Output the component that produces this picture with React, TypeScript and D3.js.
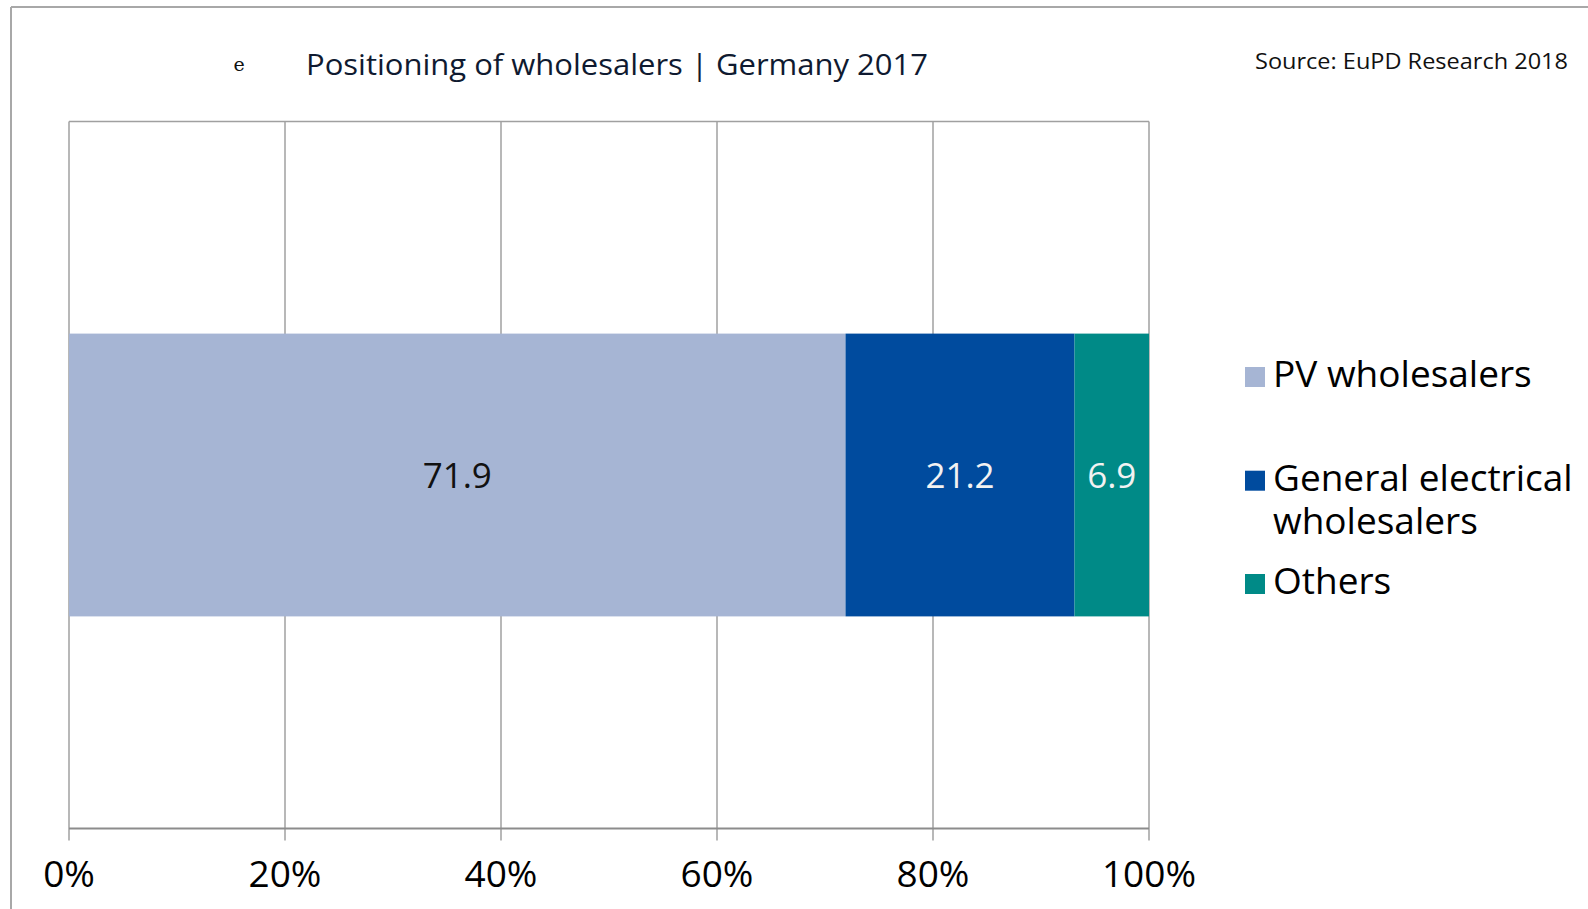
import React from "react";
import * as d3 from "d3";

const categories = ["Germany 2017"];
const seriesNames = ["PV wholesalers", "General electrical wholesalers", "Others"];
const seriesValues = [71.9, 21.2, 6.9];
const seriesColors = ["#a6b5d4", "#004b9e", "#008a87"];
const labelColors = ["#111111", "#f2f2f2", "#f2f2f2"];
const xTicks = [0, 20, 40, 60, 80, 100];
const legendLines = [["PV wholesalers"], ["General electrical", "wholesalers"], ["Others"]];

const W = 1588;
const H = 909;
const FONT = "'Open Sans', 'Noto Sans', sans-serif";

export default function App() {
  const left = 69;
  const right = 1149;
  const top = 121.5;
  const bottom = 828.5;

  const x = d3.scaleLinear().domain([0, 100]).range([left, right]);
  const y = d3.scaleBand().domain(categories).range([top, bottom]).paddingInner(0).paddingOuter(0.75);

  const ends = Array.from(d3.cumsum(seriesValues));
  const starts = ends.map((e, i) => e - seriesValues[i]);

  const legendBaselines = [387, 490.7, 594];
  const lineH = 43.5;

  return (
    <svg
      width={W}
      height={H}
      style={{ position: "absolute", left: 0, top: 0, background: "#fff" }}
      fontFamily={FONT}
    >
      <rect x={0} y={0} width={W} height={H} fill="#fff" />
      {/* outer frame */}
      <line x1={11} y1={7} x2={W} y2={7} stroke="#a8a8a8" strokeWidth={2} />
      <line x1={11} y1={7} x2={11} y2={H} stroke="#a8a8a8" strokeWidth={2} />

      {/* title */}
      <text x={239} y={71} fontSize={19} fontFamily="'DejaVu Serif', serif" fill="#111" textAnchor="middle">
        e
      </text>
      <text x={306} y={75} fontSize={29} fill="#0f1a30" textLength={622} lengthAdjust="spacingAndGlyphs">
        Positioning of wholesalers | Germany 2017
      </text>
      <text x={1568} y={69} fontSize={22} fill="#111" textAnchor="end" textLength={313} lengthAdjust="spacingAndGlyphs">
        Source: EuPD Research 2018
      </text>

      {/* plot area border top */}
      <line x1={left} y1={top} x2={right} y2={top} stroke="#a0a0a0" strokeWidth={1.5} />
      {/* gridlines */}
      {xTicks.map((t) => (
        <line key={"g" + t} x1={x(t)} y1={top} x2={x(t)} y2={bottom + 12} stroke="#a0a0a0" strokeWidth={1.5} />
      ))}

      {/* bars */}
      {categories.map((c) =>
        seriesValues.map((v, i) => (
          <rect
            key={c + i}
            x={x(starts[i])}
            y={y(c)!}
            width={x(ends[i]) - x(starts[i])}
            height={y.bandwidth()}
            fill={seriesColors[i]}
          />
        ))
      )}
      {/* data labels */}
      {categories.map((c) =>
        seriesValues.map((v, i) => (
          <text
            key={"l" + c + i}
            x={(x(starts[i]) + x(ends[i])) / 2}
            y={y(c)! + y.bandwidth() / 2 + 13}
            fontSize={35}
            textAnchor="middle"
            fill={labelColors[i]}
          >
            {v.toFixed(1)}
          </text>
        ))
      )}

      {/* x axis */}
      <line x1={left} y1={bottom} x2={right} y2={bottom} stroke="#8c8c8c" strokeWidth={2} />
      {xTicks.map((t) => (
        <text key={"t" + t} x={x(t)} y={887} fontSize={37} textAnchor="middle" fill="#000">
          {t + "%"}
        </text>
      ))}

      {/* legend */}
      {seriesNames.map((s, i) => (
        <g key={"lg" + s}>
          <rect x={1245} y={legendBaselines[i] - 20} width={20} height={20} fill={seriesColors[i]} />
          {legendLines[i].map((ln, j) => (
            <text key={j} x={1273} y={legendBaselines[i] + j * lineH} fontSize={37} fill="#000">
              {ln}
            </text>
          ))}
        </g>
      ))}
    </svg>
  );
}
